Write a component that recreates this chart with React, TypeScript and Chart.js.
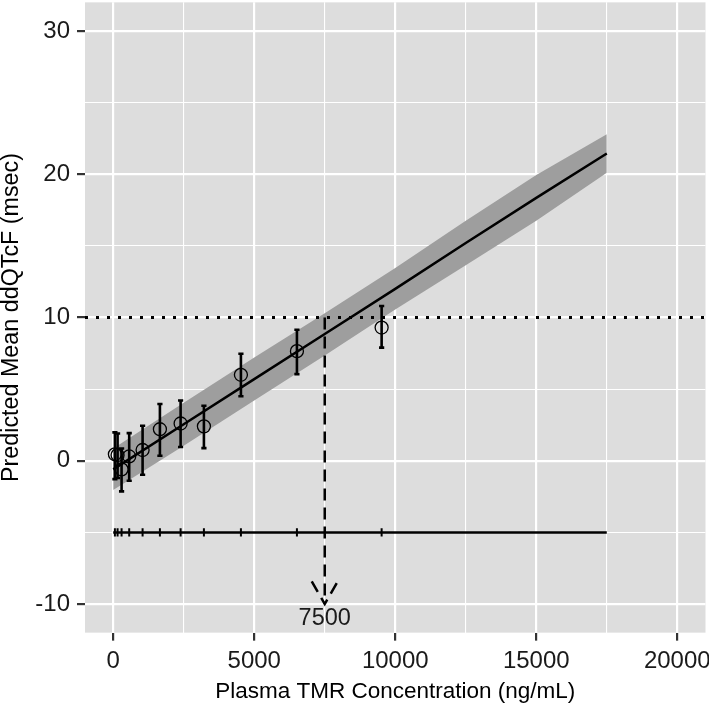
import React, { useEffect, useRef } from "react";
import { Chart, registerables } from "chart.js";

Chart.register(...registerables);

// Observed binned data (concentration medians, mean ddQTcF and 90% CI)
const concentration = [60, 155, 297, 567, 1042, 1656, 2390, 3216, 4528, 6514, 9517];
const observedMean = [0.45, 0.4, -0.6, 0.3, 0.75, 2.2, 2.6, 2.4, 6.0, 7.65, 9.3];
const ciLower = [-1.28, -1.2, -2.14, -1.4, -0.98, 0.35, 0.96, 0.88, 4.5, 6.05, 7.9];
const ciUpper = [1.98, 1.9, 0.85, 1.93, 2.44, 3.96, 4.21, 3.84, 7.47, 9.15, 10.8];

// Model prediction and confidence band
const predConc = [0, 2500, 5000, 7500, 10000, 12500, 15000, 17500];
const predMean = [-0.6, 2.55, 5.7, 8.85, 12.0, 15.2, 18.35, 21.45];
const predLower = [-2.05, 1.05, 4.2, 7.35, 10.55, 13.65, 16.75, 20.1];
const predUpper = [0.85, 4.05, 7.2, 10.3, 13.45, 16.75, 19.95, 22.8];

// Axes
const xTicks = [0, 2500, 5000, 7500, 10000, 12500, 15000, 17500, 20000];
const yTicks = [-10, -5, 0, 5, 10, 15, 20, 25, 30];
const xLimits = [-1000, 21000];
const yLimits = [-12, 32];
const xTitle = "Plasma TMR Concentration (ng/mL)";
const yTitle = "Predicted Mean ddQTcF (msec)";

// Annotations
const thresholdQTc = 10;
const thresholdConc = 7500;
const arrowTipY = -10;
const labelY = -11;
const rugY = -5;
const rugRange = [0, 17500];

const FONT = "'Liberation Sans', Arial, Helvetica, sans-serif";

// panel placement (layout only)
const PANEL = { left: 85, right: 705.5, top: 2.35, bottom: 632.65 };

const annotPlugin = {
  id: "annot",
  afterLayout(chart: any) {
    const ca = chart.chartArea;
    ca.left = PANEL.left;
    ca.right = PANEL.right;
    ca.top = PANEL.top;
    ca.bottom = PANEL.bottom;
    ca.width = PANEL.right - PANEL.left;
    ca.height = PANEL.bottom - PANEL.top;
    const x = chart.scales.x;
    const y = chart.scales.y;
    x.left = PANEL.left;
    x.right = PANEL.right;
    x.width = PANEL.right - PANEL.left;
    x.top = PANEL.bottom;
    x.bottom = chart.height;
    x.height = chart.height - PANEL.bottom;
    y.left = 0;
    y.right = PANEL.left;
    y.width = PANEL.left;
    y.top = PANEL.top;
    y.bottom = PANEL.bottom;
    y.height = PANEL.bottom - PANEL.top;
    x.configure();
    y.configure();
  },
  beforeDraw(chart: any) {
    const { ctx, chartArea } = chart;
    ctx.save();
    ctx.fillStyle = "#DDDDDD";
    ctx.fillRect(chartArea.left, chartArea.top, chartArea.right - chartArea.left, chartArea.bottom - chartArea.top);
    ctx.restore();
  },
  afterDatasetsDraw(chart: any) {
    const { ctx } = chart;
    const x = chart.scales.x;
    const y = chart.scales.y;
    ctx.save();
    ctx.strokeStyle = "#000";
    ctx.lineWidth = 2.6;
    ctx.lineCap = "butt";
    concentration.forEach((c, i) => {
      const px = x.getPixelForValue(c);
      const y1 = y.getPixelForValue(ciLower[i]);
      const y2 = y.getPixelForValue(ciUpper[i]);
      ctx.beginPath();
      ctx.moveTo(px, y1);
      ctx.lineTo(px, y2);
      ctx.moveTo(px - 2.6, y1);
      ctx.lineTo(px + 2.6, y1);
      ctx.moveTo(px - 2.6, y2);
      ctx.lineTo(px + 2.6, y2);
      ctx.stroke();
    });
    // arrow head (dashed, open)
    const tx = x.getPixelForValue(thresholdConc);
    const ty = y.getPixelForValue(arrowTipY);
    const len = 26;
    const ang = Math.PI / 6;
    ctx.lineWidth = 2.5;
    ctx.setLineDash([12, 7]);
    ctx.beginPath();
    ctx.moveTo(tx - len * Math.sin(ang), ty - len * Math.cos(ang));
    ctx.lineTo(tx, ty);
    ctx.lineTo(tx + len * Math.sin(ang), ty - len * Math.cos(ang));
    ctx.stroke();
    ctx.setLineDash([]);
    ctx.fillStyle = "#1a1a1a";
    ctx.font = `23.5px ${FONT}`;
    ctx.textAlign = "center";
    ctx.textBaseline = "middle";
    ctx.fillText(String(thresholdConc), tx, y.getPixelForValue(labelY));
    ctx.restore();
  },
};

export default function App() {
  const ref = useRef<HTMLCanvasElement>(null);
  useEffect(() => {
    document.body.style.margin = "0";
    const canvas = ref.current;
    if (!canvas) return;
    const chart = new Chart(canvas, {
      type: "scatter",
      data: {
        datasets: [
          {
            data: predConc.map((c, i) => ({ x: c, y: predLower[i] })),
            showLine: true,
            borderWidth: 0,
            pointRadius: 0,
            fill: false,
            order: 20,
          } as any,
          {
            data: predConc.map((c, i) => ({ x: c, y: predUpper[i] })),
            showLine: true,
            borderWidth: 0,
            pointRadius: 0,
            fill: "-1",
            backgroundColor: "#9E9E9E",
            order: 19,
          },
          {
            data: predConc.map((c, i) => ({ x: c, y: predMean[i] })),
            showLine: true,
            borderColor: "#000",
            borderWidth: 2.5,
            pointRadius: 0,
            order: 18,
          },
          {
            data: xLimits.map((v) => ({ x: v, y: thresholdQTc })),
            showLine: true,
            borderColor: "#000",
            borderWidth: 3,
            borderDash: [3, 8],
            pointRadius: 0,
            order: 17,
          },
          {
            data: [
              { x: thresholdConc, y: thresholdQTc },
              { x: thresholdConc, y: arrowTipY },
            ],
            showLine: true,
            borderColor: "#000",
            borderWidth: 2.5,
            borderDash: [12, 7],
            pointRadius: 0,
            order: 16,
          },
          {
            data: rugRange.map((v) => ({ x: v, y: rugY })),
            showLine: true,
            borderColor: "#000",
            borderWidth: 2.5,
            pointRadius: 0,
            order: 15,
          },
          {
            data: concentration.map((c) => ({ x: c, y: rugY })),
            showLine: false,
            pointStyle: "line",
            rotation: 90,
            pointRadius: 4.2,
            borderColor: "#000",
            borderWidth: 2,
            order: 14,
          },
          {
            data: concentration.map((c, i) => ({ x: c, y: observedMean[i] })),
            showLine: false,
            pointStyle: "circle",
            pointRadius: 6.5,
            borderColor: "#000",
            borderWidth: 1.3,
            backgroundColor: "rgba(0,0,0,0)",
            order: 1,
          },
        ],
      },
      options: {
        animation: false,
        responsive: false,
        devicePixelRatio: 1,
        layout: { padding: { top: 2, right: 3.5, left: 0, bottom: 0 } },
        plugins: { legend: { display: false }, tooltip: { enabled: false } },
        scales: {
          x: {
            type: "linear",
            min: xLimits[0],
            max: xLimits[1],
            afterBuildTicks: (s: any) => {
              s.ticks = xTicks.map((v) => ({ value: v }));
            },
            border: { display: false },
            grid: {
              color: "#FFFFFF",
              lineWidth: (c: any) => (c.tick && c.tick.value % 5000 === 0 ? 2.2 : 1.1),
              tickColor: (c: any) => (c.tick && c.tick.value % 5000 === 0 ? "#333333" : "rgba(0,0,0,0)"),
              tickWidth: 2.2,
              tickLength: 8,
              drawTicks: true,
            },
            ticks: {
              autoSkip: false,
              maxRotation: 0,
              padding: 6.5,
              color: "#1a1a1a",
              font: { family: FONT, size: 24 },
              callback: (v: any) => (Number(v) % 5000 === 0 ? String(v) : ""),
            },
            title: {
              display: true,
              text: xTitle,
              color: "#000",
              font: { family: FONT, size: 22.5, lineHeight: 1 },
              padding: { top: 0, bottom: 10.5 },
            },
          },
          y: {
            type: "linear",
            min: yLimits[0],
            max: yLimits[1],
            afterBuildTicks: (s: any) => {
              s.ticks = yTicks.map((v) => ({ value: v }));
            },
            border: { display: false },
            grid: {
              color: "#FFFFFF",
              lineWidth: (c: any) => (c.tick && c.tick.value % 10 === 0 ? 2.2 : 1.1),
              tickColor: (c: any) => (c.tick && c.tick.value % 10 === 0 ? "#333333" : "rgba(0,0,0,0)"),
              tickWidth: 2.2,
              tickLength: 8,
              drawTicks: true,
            },
            ticks: {
              autoSkip: false,
              padding: 7,
              color: "#1a1a1a",
              font: { family: FONT, size: 24 },
              callback: (v: any) => (Number(v) % 10 === 0 ? String(v) : ""),
            },
            title: {
              display: true,
              text: yTitle,
              color: "#000",
              font: { family: FONT, size: 23.3, lineHeight: 1 },
              padding: { top: 0, bottom: 0 },
            },
          },
        },
      },
      plugins: [annotPlugin],
    } as any);
    return () => chart.destroy();
  }, []);
  return (
    <div style={{ position: "fixed", left: 0, top: 0, width: 709, height: 714 }}>
      <canvas ref={ref} width={709} height={714} style={{ display: "block" }} />
    </div>
  );
}
